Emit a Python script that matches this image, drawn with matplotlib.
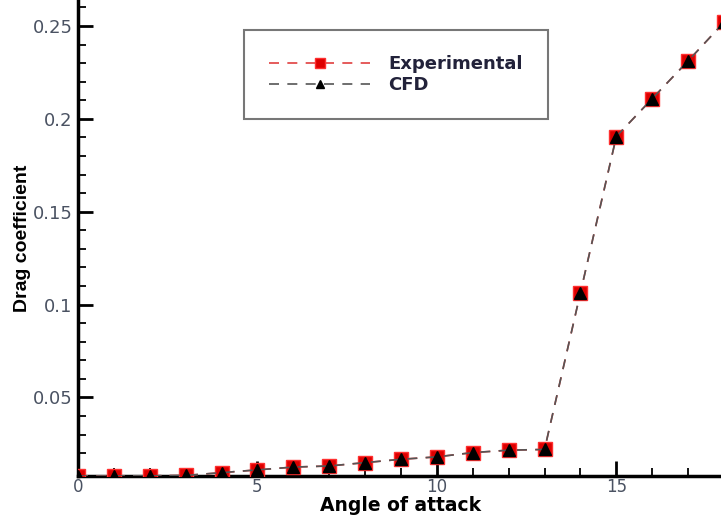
import matplotlib.pyplot as plt

# Datos
angulo = [0, 1, 2, 3, 4, 5, 6, 7, 8, 9, 10, 11, 12, 13, 14, 15, 16, 17, 18]
cd_experimental = [0.0077, 0.0077, 0.0078, 0.0080, 0.0095, 0.0110, 0.0125, 0.0131, 0.0149,
                   0.0167, 0.0180, 0.0203, 0.0216, 0.0220, 0.1064, 0.1905, 0.2109, 0.2312, 0.2520]
cd_cfd = [0.0077, 0.0077, 0.0078, 0.0080, 0.0095, 0.0110, 0.0125, 0.0131, 0.0149,
          0.0167, 0.0180, 0.0203, 0.0216, 0.0220, 0.1064, 0.1905, 0.2109, 0.2312, 0.2520]

plt.rcParams['font.family'] = ['DejaVu Sans']

fig = plt.figure(figsize=(7.21, 5.19), dpi=100)
ax = fig.add_axes([78 / 721, 1 - 476 / 519, 646 / 721, 476 / 519])

ax.plot(angulo, cd_experimental, color='#e04040', linestyle=(0, (6, 5)), linewidth=1.2,
        marker='s', markersize=10, markerfacecolor='#dd0000', markeredgecolor='#ff3030',
        label='Experimental', zorder=3)
ax.plot(angulo, cd_cfd, color='#555555', linestyle=(0, (6, 5)), linewidth=1.2,
        marker='^', markersize=8, markerfacecolor='black', markeredgecolor='black',
        label='CFD', zorder=4)

ax.set_xlim(0, 18)
ax.set_ylim(0.0077, 0.264)
ax.set_xticks([0, 5, 10, 15])
ax.set_xticks(range(0, 19), minor=True)
ax.set_yticks([0.05, 0.1, 0.15, 0.2, 0.25])
ax.set_yticklabels(['0.05', '0.1', '0.15', '0.2', '0.25'])
ax.set_yticks([0.01 * i for i in range(1, 27)], minor=True)

ax.tick_params(which='major', direction='in', length=11, width=2, labelsize=13,
               labelcolor='#4a5262', pad=4)
ax.tick_params(axis='x', which='major', pad=1.5, labelsize=12)
ax.tick_params(which='minor', direction='in', length=6, width=1.3)

ax.spines['top'].set_visible(False)
ax.spines['right'].set_visible(False)
ax.spines['left'].set_linewidth(2.5)
ax.spines['bottom'].set_linewidth(2.5)

ax.set_xlabel('Angle of attack', fontsize=13.5, fontweight='bold', labelpad=0)
ax.set_ylabel('Drag coefficient', fontsize=14, fontweight='bold', labelpad=1,
              family='Liberation Sans')

leg = ax.legend(loc='upper left', bbox_to_anchor=((244 - 78) / 646, 1 - 30 / 476),
                frameon=True, fancybox=False, handlelength=5.6, handletextpad=1.0,
                borderpad=1.4, labelspacing=0.15, borderaxespad=0, markerscale=0.75,
                prop={'weight': 'bold', 'size': 13})
leg.get_frame().set_edgecolor('#555555')
leg.get_frame().set_linewidth(1.5)
for t in leg.get_texts():
    t.set_color('#22223a')

fig.savefig('out.png', dpi=100)
